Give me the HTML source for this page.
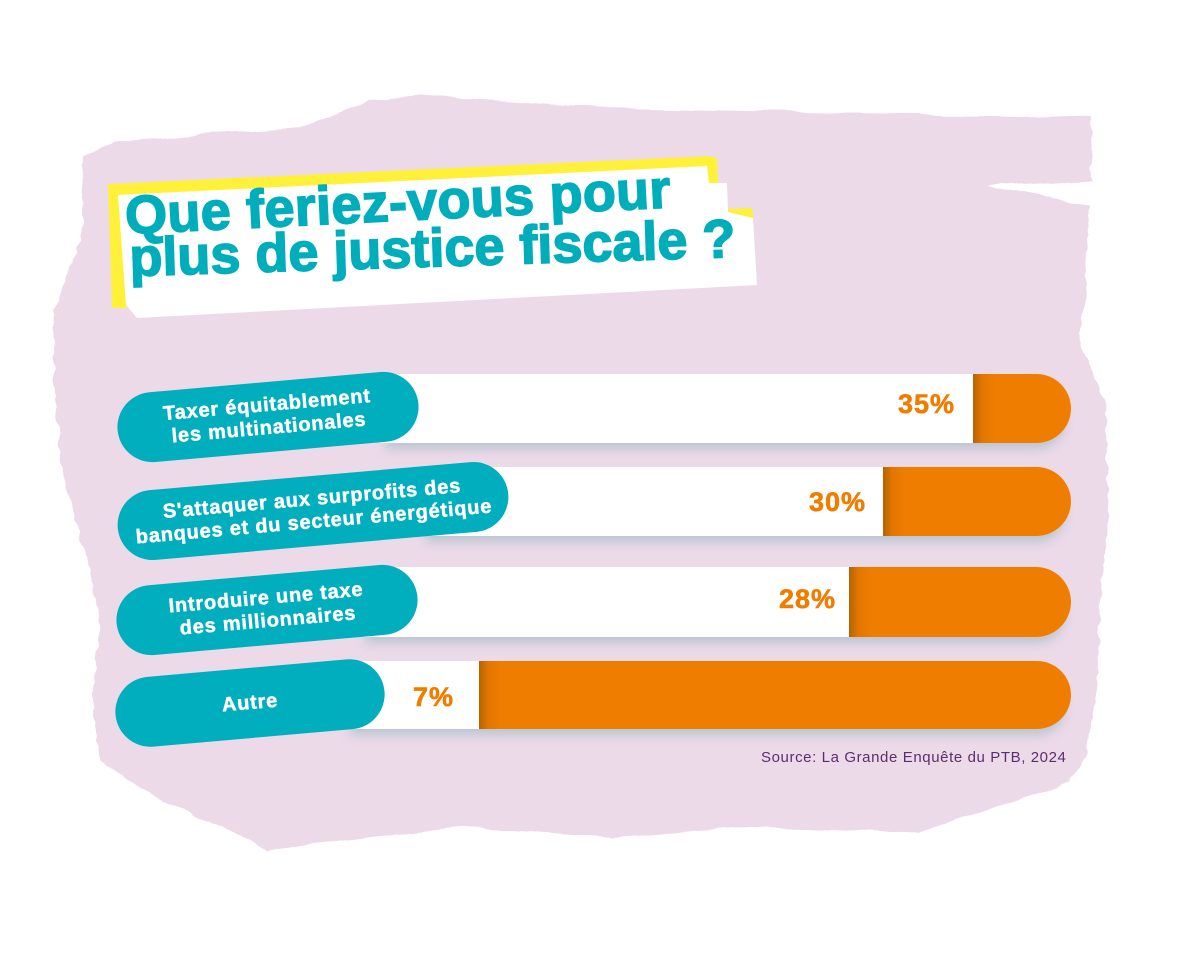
<!DOCTYPE html>
<html><head><meta charset="utf-8">
<style>
html,body{margin:0;padding:0;background:#fff;}
body{width:1200px;height:960px;position:relative;overflow:hidden;font-family:"Liberation Sans",Arial,sans-serif;}
.bar{position:absolute;background:#fff;border-radius:0 35px 35px 0;box-shadow:0 12px 10px -6px rgba(140,178,188,0.5);}
.or{position:absolute;top:0;bottom:0;right:0;border-radius:0 35px 35px 0;background:linear-gradient(to right,#b46400 0px,#e27600 9px,#ef7d00 22px,#ef7d00 100%);}
.pill{position:absolute;height:70px;border-radius:35px;background:#00aebd;transform:rotate(-5deg);display:flex;align-items:center;justify-content:center;text-align:center;color:#fff;font-weight:bold;font-size:20px;line-height:23px;letter-spacing:0.8px;-webkit-text-stroke:0.5px #fff;white-space:nowrap;}
.pct{position:absolute;color:#ef7d00;font-weight:bold;font-size:27px;line-height:27px;letter-spacing:1px;text-align:right;width:100px;-webkit-text-stroke:0.6px #ef7d00;}
.title{position:absolute;color:#00adbb;font-weight:bold;font-size:54px;line-height:54px;white-space:nowrap;transform-origin:0 46px;-webkit-text-stroke:1.6px #00adbb;}
.src{position:absolute;left:761px;top:750px;font-size:15px;line-height:15px;letter-spacing:0.6px;color:#5c2d6e;white-space:nowrap;}
</style></head>
<body>
<svg width="1200" height="960" style="position:absolute;left:0;top:0">
  <defs>
    <filter id="rough" x="-5%" y="-5%" width="110%" height="110%">
      <feTurbulence type="fractalNoise" baseFrequency="0.02 0.08" numOctaves="2" seed="3" result="n"/>
      <feDisplacementMap in="SourceGraphic" in2="n" scale="8" xChannelSelector="R" yChannelSelector="G"/>
    </filter>
  </defs>
  <g filter="url(#rough)">
    <polygon fill="#ecdae9" points="84,157 115,141 300,128 370,100 421,95 600,108 800,112 1021,116 1090,114 1092,180 985,186 1090,205 1085,300 1078,340 1105,400 1109,514 1100,600 1097,692 1085,760 1071,783 995,807 918,833 765,827 612,837 459,827 300,845 268,852 230,830 153,797 100,760 92,700 100,620 88,560 61,470 54,386 54,310 82,233"/>
  </g>
  <!-- title patch -->
  <polygon fill="#fff13a" points="108,184 710,156 717,158 718,182 725,209 752,208 754,220 124,308 112,308"/>
  <polygon fill="#ffffff" points="118,195 707,166 709,183 727,183 728,212 753,218 757,285 137,318 126,305"/>
</svg>

<div class="title" style="left:126px;top:189px;letter-spacing:0.3px;transform:rotate(-2.8deg);">Que feriez-vous pour</div>
<div class="title" style="left:130px;top:231px;transform:rotate(-1.8deg);">plus de justice fiscale ?</div>

<div class="bar" style="left:380px;top:374px;width:691px;height:69px;"><div class="or" style="width:98px;"></div></div>
<div class="bar" style="left:420px;top:467px;width:651px;height:69px;"><div class="or" style="width:188px;"></div></div>
<div class="bar" style="left:360px;top:567px;width:711px;height:70px;"><div class="or" style="width:222px;"></div></div>
<div class="bar" style="left:345px;top:661px;width:726px;height:68px;"><div class="or" style="width:592px;"></div></div>

<div class="pct" style="left:855px;top:391px;">35%</div>
<div class="pct" style="left:766px;top:489px;">30%</div>
<div class="pct" style="left:736px;top:586px;">28%</div>
<div class="pct" style="left:354px;top:684px;">7%</div>

<div class="pill" style="left:116.5px;top:382px;width:302px;">Taxer équitablement<br>les multinationales</div>
<div class="pill" style="left:116.5px;top:476px;width:392px;">S'attaquer aux surprofits des<br>banques et du secteur énergétique</div>
<div class="pill" style="left:115.5px;top:575px;width:302px;">Introduire une taxe<br>des millionnaires</div>
<div class="pill" style="left:114.5px;top:668px;width:270px;">Autre</div>

<div class="src">Source: La Grande Enquête du PTB, 2024</div>
</body></html>
